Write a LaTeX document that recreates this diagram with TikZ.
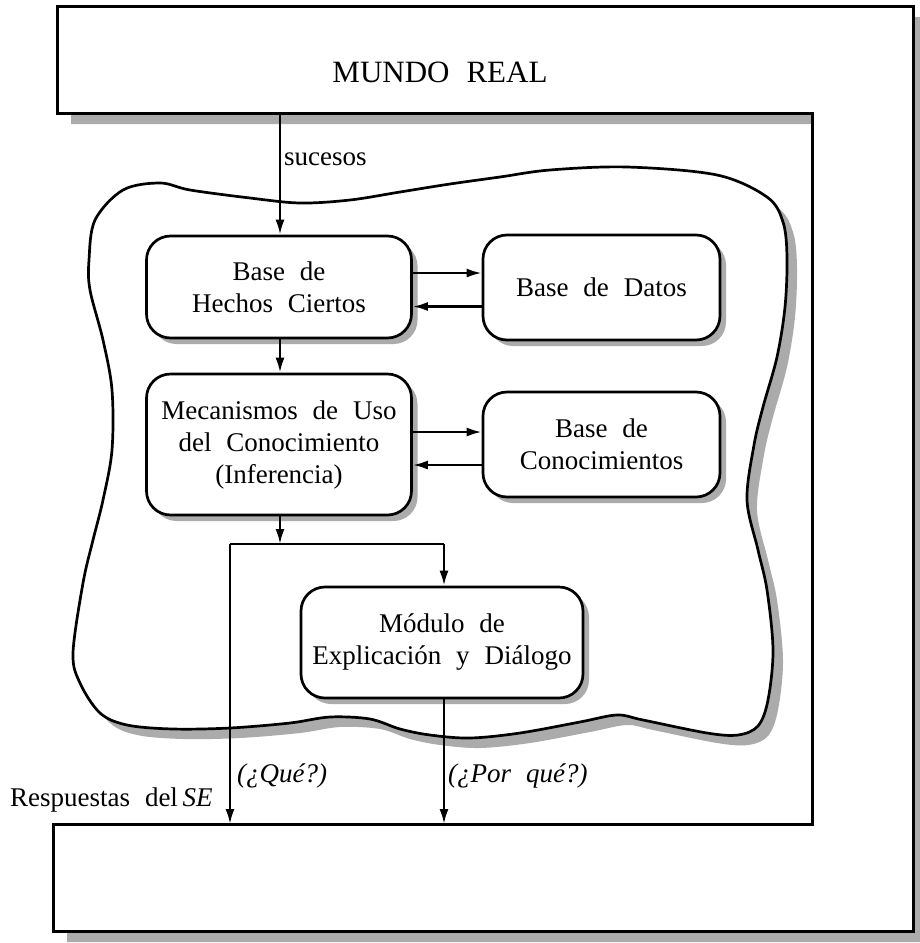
\documentclass[tikz,border=0pt]{standalone}
\usepackage{fontspec}
\setmainfont{Liberation Serif}[WordSpace=2.2]
\usetikzlibrary{arrows.meta,shadows}
\begin{document}
\begin{tikzpicture}[x=1pt,y=-1pt,
  shade col/.style={fill=black!33},
  frame/.style={draw=black,line width=3pt,fill=white,line join=miter},
  module/.style={draw=black,line width=2.7pt,fill=white,rounded corners=24pt,
    align=center,inner sep=0pt,
    font=\fontsize{27}{32}\selectfont,
    drop shadow={shadow xshift=6pt,shadow yshift=-6pt,fill=black!33,opacity=1}},
  arr/.style={line width=2.3pt,-{Latex[length=15pt,width=9pt]}},
  link/.style={line width=2.3pt},
  lbl/.style={inner sep=0pt,font=\fontsize{27}{32}\selectfont},
]
\useasboundingbox (0,0) rectangle (919,943);

% outer world frame: its shadow, then the frame itself
\fill[shade col,shift={(14,11)}]
  (57,6) -- (913,6) -- (913,931) -- (53,931) -- (53,824) -- (812,824)
  -- (812,113) -- (57,113) -- cycle;
\path[frame]
  (57,6) -- (913,6) -- (913,931) -- (53,931) -- (53,824) -- (812,824)
  -- (812,113) -- (57,113) -- cycle;

% system boundary (irregular outline)
\def\blobpath{plot[smooth cycle,tension=0.55] coordinates {
  (160,183) (190,190) (250,198) (300,203) (350,200) (400,192) (450,184)
  (500,177) (550,170) (627,167) (717,175) (767,197) (783,222) (787,257)
  (785,307) (777,357) (763,407) (754,445) (747,500) (758,550) (767,590)
  (773,650) (768,700) (758,726) (738,735) (707,733) (643,720) (617,715)
  (580,722) (520,733) (470,738) (430,735) (400,729) (370,719) (330,717)
  (290,723) (230,728) (173,729) (127,725) (100,713) (80,683) (73,653)
  (83,583) (93,540) (103,500) (112,450) (112,390) (103,340) (90,290)
  (89,260) (95,220) (123,190)}}
\fill[shade col,shift={(10,10)}] \blobpath;
\draw[line width=2.7pt,fill=white] \blobpath;

% modules
\node[module,minimum width=265pt,minimum height=102pt] (b1) at (279,287)
  {Base de\\Hechos Ciertos};
\node[module,minimum width=237pt,minimum height=105pt] (b2) at (601.5,287.5)
  {Base de Datos};
\node[module,minimum width=265pt,minimum height=141pt] (b3) at (279,444.5)
  {Mecanismos de Uso\\del Conocimiento\\(Inferencia)};
\node[module,minimum width=237pt,minimum height=105pt] (b4) at (601.5,444.5)
  {Base de\\Conocimientos};
\node[module,minimum width=282pt,minimum height=111pt] (b5) at (442,642.5)
  {M\'odulo de\\Explicaci\'on y Di\'alogo};

% connection points
\coordinate (top) at (280,113);
\coordinate (split) at (280,544);
\coordinate (lft) at (230,544);
\coordinate (rgt) at (444,544);
\coordinate (qout) at (230,824);
\coordinate (pout) at (444,824);

% connectors
\draw[arr] (top) -- (top |- b1.north);
\draw[arr] ([yshift=14pt]b1.east) -- ([yshift=14pt]b1.east -| b2.west);
\draw[arr] ([yshift=-19pt]b2.west) -- ([yshift=-19pt]b2.west -| b1.east);
\draw[arr] (top |- b1.south) -- (top |- b3.north);
\draw[arr] ([yshift=12.5pt]b3.east) -- ([yshift=12.5pt]b3.east -| b4.west);
\draw[arr] ([yshift=-20.5pt]b4.west) -- ([yshift=-20.5pt]b4.west -| b3.east);
\draw[arr] (top |- b3.south) -- (split);
\draw[link] (lft) -- (rgt);
\draw[arr] (rgt) -- (rgt |- b5.north);
\draw[arr] (lft) -- (qout);
\draw[arr] (rgt |- b5.south) -- (pout);

% labels
\node[inner sep=0pt,anchor=base,font=\fontsize{31}{36}\selectfont] (mr) at (440,82)
  {MUNDO REAL};
\node[lbl,anchor=base west] (suc) at (284,165) {sucesos};
\node[lbl,anchor=base west] (resp) at (10,806) {Respuestas del\,\textit{SE}};
\node[lbl,anchor=base west] (que) at (237,782) {\textit{(¿Qué?)}};
\node[lbl,anchor=base west] (porq) at (448,782) {\textit{(¿Por qué?)}};
\end{tikzpicture}
\end{document}
